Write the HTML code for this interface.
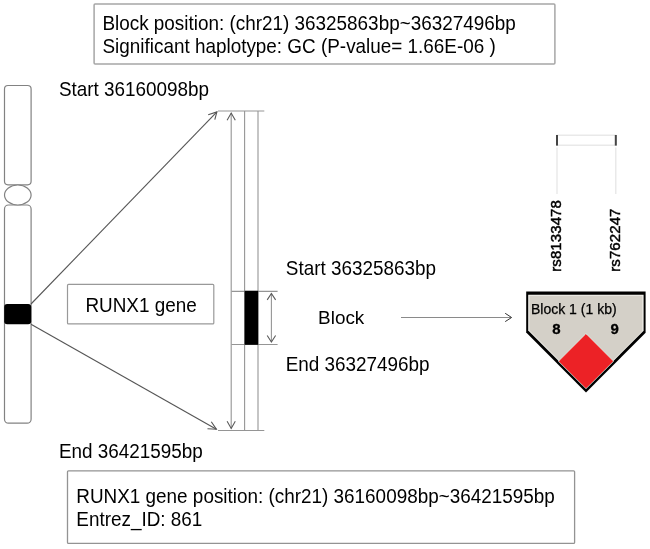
<!DOCTYPE html>
<html><head><meta charset="utf-8">
<style>
html,body{margin:0;padding:0;background:#fff;}
body{width:650px;height:549px;overflow:hidden;position:relative;}
svg{position:absolute;left:0;top:0;will-change:transform;}
text{font-family:"Liberation Sans",sans-serif;}
</style></head><body>
<svg width="650" height="549" viewBox="0 0 650 549">
<!-- top info box -->
<rect x="94.1" y="3.95" width="460.8" height="59.95" rx="1" fill="#fff" stroke="#a6a6a6" stroke-width="1.5"/>
<text transform="translate(102.4,29.6) scale(1,1.06)" font-size="18.9" fill="#000">Block position: (chr21) 36325863bp~36327496bp</text>
<text transform="translate(102.5,53.0) scale(1,1.06)" font-size="18.9" fill="#000">Significant haplotype: GC (P-value= 1.66E-06 )</text>

<text transform="translate(58.9,96.2) scale(1,1.06)" font-size="18.9" fill="#000">Start 36160098bp</text>

<!-- chromosome -->
<g fill="#fff" stroke="#828282" stroke-width="1.2">
<rect x="4.5" y="85.5" width="26.6" height="99.3" rx="3.5"/>
<rect x="4.5" y="205" width="26.6" height="218.2" rx="4"/>
<ellipse cx="17.8" cy="195" rx="13.3" ry="10"/>
</g>
<rect x="4.2" y="304" width="27" height="20.2" rx="3" fill="#000"/>

<!-- diagonal lines -->
<g stroke="#555" stroke-width="1.1" fill="none">
<line x1="31" y1="304" x2="216.9" y2="111.9"/>
<polyline points="208.2,114.7 216.9,111.9 214.8,119.6"/>
<line x1="31" y1="324.2" x2="216.4" y2="429.2"/>
<polyline points="207.5,428.8 216.4,429.2 211.3,421.8"/>
</g>

<!-- zoomed chromosome -->
<g stroke="#959595" stroke-width="1.1" fill="none">
<line x1="218" y1="111" x2="264.3" y2="111"/>
<line x1="218" y1="430.5" x2="264.3" y2="430.5"/>
<line x1="244.6" y1="111" x2="244.6" y2="430.5"/>
<line x1="258" y1="111" x2="258" y2="430.5"/>
<line x1="231.2" y1="113" x2="231.2" y2="428.5"/>
<polyline points="227.1,120.2 231.2,113 235.3,120.2" stroke="#5a5a5a"/>
<polyline points="227.1,421.3 231.2,428.5 235.3,421.3" stroke="#5a5a5a"/>
<line x1="231.5" y1="291.4" x2="277.6" y2="291.4"/>
<line x1="231.5" y1="344.5" x2="277.6" y2="344.5"/>
<line x1="271.4" y1="293.4" x2="271.4" y2="342"/>
<polyline points="267.2,299.9 271.4,293.4 275.6,299.9" stroke="#5a5a5a"/>
<polyline points="267.2,335.5 271.4,342 275.6,335.5" stroke="#5a5a5a"/>
</g>
<rect x="244.6" y="290.8" width="13.6" height="54" fill="#000"/>

<!-- RUNX1 gene box -->
<rect x="67.5" y="284.4" width="146.3" height="39.5" rx="1" fill="#fff" stroke="#999" stroke-width="1.2"/>
<text transform="translate(85.4,311.8) scale(1,1.06)" font-size="18.9" fill="#000">RUNX1 gene</text>

<text transform="translate(285.8,274.8) scale(1,1.06)" font-size="18.9" fill="#000">Start 36325863bp</text>
<text transform="translate(318.1,324.3) scale(1,1.0)" font-size="18.9" fill="#000">Block</text>
<text transform="translate(285.7,370.9) scale(1,1.04)" font-size="18.9" fill="#000">End 36327496bp</text>

<!-- arrow to LD -->
<g stroke="#555" stroke-width="1" fill="none">
<line x1="401" y1="317.5" x2="511" y2="317.5" stroke="#8a8a8a" stroke-width="1.1"/>
<polyline points="505.2,313.3 511.6,317.5 505.2,321.6" stroke="#333"/>
</g>

<!-- LD plot -->
<rect x="557" y="135.2" width="58.8" height="10" fill="none" stroke="#e4e4e4" stroke-width="1.2"/>
<rect x="556" y="135" width="2" height="10.6" fill="#444"/>
<rect x="614.8" y="135" width="2" height="10.6" fill="#444"/>
<line x1="557" y1="147.5" x2="557" y2="194" stroke="#e4e4e4" stroke-width="1.2"/>
<line x1="615.8" y1="147.5" x2="615.8" y2="194" stroke="#e4e4e4" stroke-width="1.2"/>
<text transform="translate(561.3,271.8) rotate(-90)" font-size="15" letter-spacing="0.1" fill="#000" stroke="#000" stroke-width="0.45">rs8133478</text>
<text transform="translate(620.1,271.8) rotate(-90)" font-size="15" letter-spacing="0.1" fill="#000" stroke="#000" stroke-width="0.45">rs762247</text>

<polygon points="526.20,291.50 645.60,291.50 645.60,332.80 586.00,392.40 526.20,332.50" fill="#000"/>
<polygon points="528.20,294.70 643.60,294.70 643.60,330.84 586.00,388.44 528.20,330.54" fill="#f2f1ec"/>
<polygon points="529.40,295.70 642.40,295.70 642.40,330.91 586.00,387.31 529.40,330.61" fill="#d4d0c8"/>
<polygon points="586,333.3 613.9,361.2 586,388.9 558.1,361.2" fill="#dcefe8"/>
<polygon points="586,334.6 612.6,361.2 586,387.8 559.4,361.2" fill="#ec2226" stroke="#fb0d10" stroke-width="0.9"/>
<text x="531" y="313.9" font-size="14" fill="#000" stroke="#000" stroke-width="0.25">Block 1 (1 kb)</text>
<text x="552.2" y="333.6" font-size="15" font-weight="bold" fill="#000" stroke="#000" stroke-width="0.3">8</text>
<text x="610.6" y="333.6" font-size="15" font-weight="bold" fill="#000" stroke="#000" stroke-width="0.3">9</text>

<text transform="translate(58.9,457.5) scale(1,1.06)" font-size="18.9" fill="#000">End 36421595bp</text>

<!-- bottom info box -->
<rect x="67.5" y="470.8" width="507.1" height="72.6" rx="1" fill="#fff" stroke="#939393" stroke-width="1.3"/>
<text transform="translate(76.3,502.9) scale(1,1.06)" font-size="18.9" fill="#000">RUNX1 gene position: (chr21) 36160098bp~36421595bp</text>
<text transform="translate(76.3,525.5) scale(1,1.06)" font-size="18.9" fill="#000">Entrez_ID: 861</text>
</svg>
</body></html>
